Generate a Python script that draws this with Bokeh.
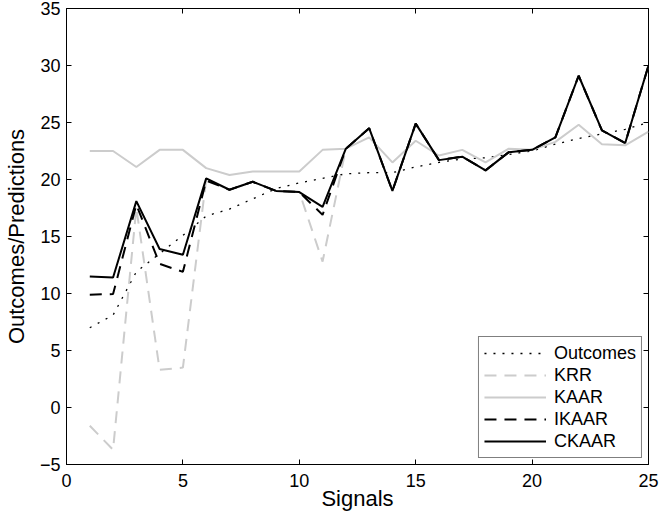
from bokeh.plotting import figure
from bokeh.models import Range1d, FixedTicker, LinearAxis, ColumnDataSource, CustomJSTickFormatter
from bokeh.embed import file_html
from bokeh.resources import INLINE

# ---- data ----
signals = list(range(1, 26))
outcomes = [7.0, 8.1, 11.9, 13.5, 15.1, 16.8, 17.4, 18.3, 19.2, 19.7, 20.1, 20.5, 20.6,
            20.6, 21.1, 21.5, 21.8, 21.9, 22.2, 22.5, 23.1, 23.6, 24.0, 24.4, 25.0]
krr = [-1.6, -3.7, 17.5, 3.3, 3.5, 20.0, 19.1, 19.8, 19.0, 18.9, 12.8, 22.7, 24.5,
       19.0, 24.9, 21.7, 22.0, 20.8, 22.4, 22.6, 23.7, 29.1, 24.3, 23.2, 30.0]
kaar = [22.5, 22.5, 21.1, 22.6, 22.6, 21.0, 20.4, 20.7, 20.7, 20.7, 22.6, 22.7, 23.7,
        21.5, 23.4, 22.1, 22.6, 21.5, 22.7, 22.6, 23.3, 24.8, 23.1, 23.0, 24.2]
ikaar = [9.9, 9.95, 17.8, 12.6, 11.9, 19.9, 19.1, 19.8, 19.0, 18.9, 16.9, 22.7, 24.5,
         19.0, 24.9, 21.7, 22.0, 20.8, 22.4, 22.6, 23.7, 29.1, 24.3, 23.2, 30.0]
ckaar = [11.5, 11.4, 18.1, 13.9, 13.4, 20.1, 19.1, 19.8, 19.0, 18.9, 17.6, 22.7, 24.5,
         19.0, 24.9, 21.7, 22.0, 20.8, 22.4, 22.6, 23.7, 29.1, 24.3, 23.2, 30.0]
x_ticks = [0, 5, 10, 15, 20, 25]
y_ticks = [-5, 0, 5, 10, 15, 20, 25, 30, 35]

FONT = "Liberation Sans"
GRAY = "#cccccc"

src = ColumnDataSource(data=dict(x=signals, outcomes=outcomes, krr=krr,
                                 kaar=kaar, ikaar=ikaar, ckaar=ckaar))

p = figure(width=659, height=516, output_backend="svg", toolbar_location=None,
           x_range=Range1d(0, 25), y_range=Range1d(-5, 35),
           x_axis_label="Signals", y_axis_label="Outcomes/Predictions",
           min_border_left=61, min_border_right=11, min_border_top=8,
           min_border_bottom=52)

p.xgrid.visible = False
p.ygrid.visible = False
p.outline_line_color = "black"
p.outline_line_width = 1
p.background_fill_color = "white"

for ax, ticks in ((p.xaxis[0], x_ticks), (p.yaxis[0], y_ticks)):
    ax.ticker = FixedTicker(ticks=ticks)
    ax.major_tick_in = 5
    ax.major_tick_out = 0
    ax.minor_tick_line_color = None
    ax.axis_line_color = "black"
    ax.major_tick_line_color = "black"
    ax.major_label_text_font = FONT
    ax.major_label_text_font_size = "18px"
    ax.major_label_text_color = "black"
    ax.axis_label_text_font = FONT
    ax.axis_label_text_font_size = "22px"
    ax.axis_label_text_font_style = "normal"
    ax.axis_label_text_color = "black"
p.xaxis[0].major_label_standoff = 9
p.xaxis[0].axis_label_standoff = -4
p.yaxis[0].major_label_standoff = 6
p.yaxis[0].axis_label_standoff = 8

# mirrored tick marks on top and right (box style)
for loc, ticks in (("above", x_ticks), ("right", y_ticks)):
    ax = LinearAxis(ticker=FixedTicker(ticks=ticks),
                    formatter=CustomJSTickFormatter(code="return ''"))
    ax.major_tick_in = 5
    ax.major_tick_out = 0
    ax.minor_tick_line_color = None
    ax.axis_line_color = None
    ax.major_tick_line_color = "black"
    ax.major_label_text_font_size = "1px"
    ax.major_label_standoff = 0
    p.add_layout(ax, loc)

p.line("x", "outcomes", source=src, line_color="black", line_width=1.3,
       line_dash="2 7", legend_label="Outcomes")
p.line("x", "krr", source=src, line_color=GRAY, line_width=2,
       line_dash="12 8", legend_label="KRR")
p.line("x", "kaar", source=src, line_color=GRAY, line_width=2,
       legend_label="KAAR")
p.line("x", "ikaar", source=src, line_color="black", line_width=2,
       line_dash="12 8", legend_label="IKAAR")
p.line("x", "ckaar", source=src, line_color="black", line_width=2,
       legend_label="CKAAR")

lg = p.legend[0]
lg.location = "bottom_right"
lg.margin = 6
lg.padding = 5
lg.spacing = 0
lg.glyph_width = 62
lg.glyph_height = 22
lg.label_height = 22
lg.label_standoff = 8
lg.label_text_font = FONT
lg.label_text_font_size = "18px"
lg.label_text_color = "black"
lg.border_line_color = "black"
lg.border_line_width = 1
lg.background_fill_color = "white"
lg.background_fill_alpha = 1.0

open("out.html", "w").write(file_html(p, INLINE))
